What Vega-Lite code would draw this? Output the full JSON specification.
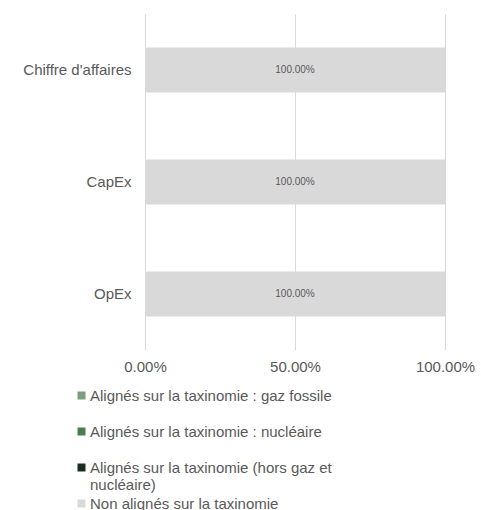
{
  "$schema": "https://vega.github.io/schema/vega-lite/v6.json",
  "width": 300,
  "height": 336,
  "autosize": {"type": "none"},
  "padding": {"left": 145, "top": 14, "right": 36, "bottom": 160},
  "config": {
    "font": "Liberation Sans",
    "view": {"stroke": null},
    "axis": {"labelColor": "#595959", "labelFontSize": 15, "domain": false, "ticks": false, "title": null}
  },
  "data": {
    "values": [
      {"cat": "Chiffre d'affaires", "serie": "Alignés sur la taxinomie : gaz fossile", "ord": 1, "value": 0},
      {"cat": "Chiffre d'affaires", "serie": "Alignés sur la taxinomie : nucléaire", "ord": 2, "value": 0},
      {"cat": "Chiffre d'affaires", "serie": "Alignés sur la taxinomie (hors gaz et nucléaire)", "ord": 3, "value": 0},
      {"cat": "Chiffre d'affaires", "serie": "Non alignés sur la taxinomie", "ord": 4, "value": 1},
      {"cat": "CapEx", "serie": "Alignés sur la taxinomie : gaz fossile", "ord": 1, "value": 0},
      {"cat": "CapEx", "serie": "Alignés sur la taxinomie : nucléaire", "ord": 2, "value": 0},
      {"cat": "CapEx", "serie": "Alignés sur la taxinomie (hors gaz et nucléaire)", "ord": 3, "value": 0},
      {"cat": "CapEx", "serie": "Non alignés sur la taxinomie", "ord": 4, "value": 1},
      {"cat": "OpEx", "serie": "Alignés sur la taxinomie : gaz fossile", "ord": 1, "value": 0},
      {"cat": "OpEx", "serie": "Alignés sur la taxinomie : nucléaire", "ord": 2, "value": 0},
      {"cat": "OpEx", "serie": "Alignés sur la taxinomie (hors gaz et nucléaire)", "ord": 3, "value": 0},
      {"cat": "OpEx", "serie": "Non alignés sur la taxinomie", "ord": 4, "value": 1}
    ]
  },
  "encoding": {
    "y": {
      "field": "cat", "type": "nominal", "sort": null,
      "scale": {"paddingInner": 0.6, "paddingOuter": 0.3},
      "axis": {"labelPadding": 14, "grid": false}
    }
  },
  "layer": [
    {
      "mark": {"type": "bar", "color": "#d9d9d9"},
      "encoding": {
        "x": {
          "field": "value", "type": "quantitative", "stack": "zero",
          "scale": {"domain": [0, 1], "nice": false},
          "axis": {"format": ".2%", "values": [0, 0.5, 1], "grid": true, "gridColor": "#d9d9d9", "gridWidth": 1, "labelPadding": 9, "labelFlush": false}
        },
        "color": {
          "field": "serie", "type": "nominal",
          "scale": {
            "domain": ["Alignés sur la taxinomie : gaz fossile", "Alignés sur la taxinomie : nucléaire", "Alignés sur la taxinomie (hors gaz et nucléaire)", "Non alignés sur la taxinomie"],
            "range": ["#7a9e7e", "#4a7c4e", "#1b2e1e", "#d9d9d9"]
          },
          "legend": {
            "title": null,
            "orient": "none",
            "legendX": -71,
            "legendY": 374,
            "symbolType": "square",
            "symbolSize": 64,
            "symbolStrokeWidth": 0,
            "labelFontSize": 15,
            "labelColor": "#595959",
            "labelOffset": 1,
            "labelLimit": 400,
            "rowPadding": 3,
            "labelExpr": "datum.label == 'Alignés sur la taxinomie (hors gaz et nucléaire)' ? ['Alignés sur la taxinomie (hors gaz et', 'nucléaire)'] : [datum.label, '']"
          }
        },
        "order": {"field": "ord"}
      }
    },
    {
      "transform": [
        {"stack": "value", "groupby": ["cat"], "sort": [{"field": "ord"}], "as": ["v0", "v1"]},
        {"filter": "datum.value > 0"},
        {"calculate": "(datum.v0 + datum.v1) / 2", "as": "mid"}
      ],
      "mark": {"type": "text", "fontSize": 10, "color": "#595959"},
      "encoding": {
        "x": {"field": "mid", "type": "quantitative"},
        "text": {"field": "value", "type": "quantitative", "format": ".2%"}
      }
    }
  ]
}
